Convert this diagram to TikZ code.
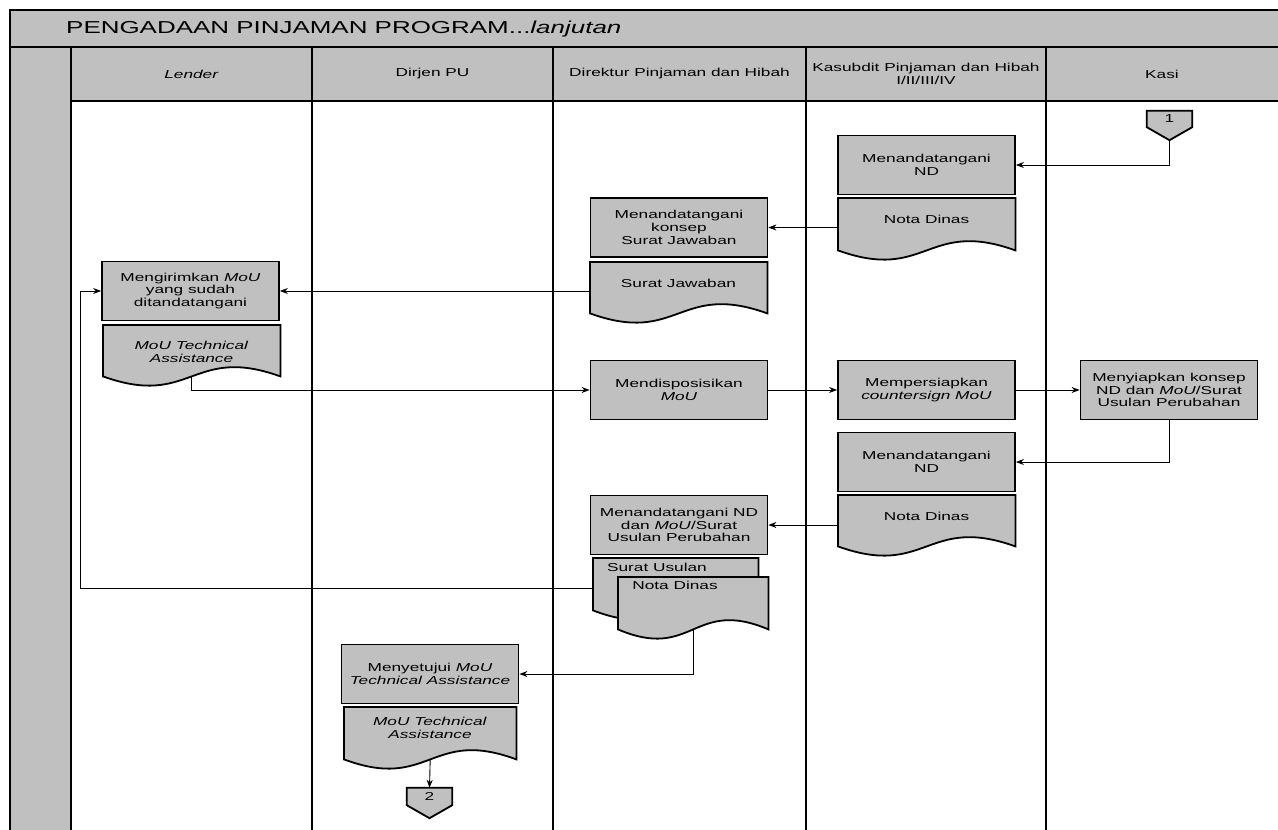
\documentclass[tikz,border=0pt]{standalone}
\usepackage{fontspec}
\setmainfont{Liberation Sans}[FakeStretch=1.5]
\usetikzlibrary{arrows.meta,calc}
\pgfdeclarelayer{frame}
\pgfdeclarelayer{docs}
\pgfsetlayers{frame,docs,main}
\definecolor{boxgray}{RGB}{192,192,192}
\newcommand\bodyfont{\fontsize{11.5}{12.8}\selectfont}
\newcommand\titlefont{\fontsize{17.3}{20}\selectfont}
\newcommand\mkdoc[1]{\begin{pgfonlayer}{docs}\path[docshape] (#1.north west) -- (#1.north east) -- (#1.south east) .. controls ($(#1.south)+(0,-32)$) and ($(#1.south)+(0,32)$) .. (#1.south west) -- cycle;\end{pgfonlayer}}
\newcommand\mkoffpage[1]{\begin{pgfonlayer}{docs}\path[docshape] (#1.north west) -- (#1.north east) -- (#1.south east) -- (#1tip) -- (#1.south west) -- cycle;\end{pgfonlayer}}
\tikzset{
  proc/.style={draw=black, line width=1.8pt, fill=boxgray, minimum width=177pt, minimum height=59pt, inner sep=0pt, align=center, font=\bodyfont},
  docnode/.style={anchor=north west, inner sep=0pt, minimum width=177pt, minimum height=51pt},
  doctext/.style={inner sep=0pt, align=center, font=\bodyfont},
  docshape/.style={draw=black, line width=1.8pt, fill=boxgray, line join=miter},
  offp/.style={inner sep=0pt, minimum width=45pt, minimum height=16pt, font=\bodyfont},
  hdr/.style={inner sep=0pt, align=center, font=\bodyfont},
  arr/.style={draw=black, line width=0.9pt, -{Stealth[length=8pt,width=6pt]}},
  lane/.style={draw=black, line width=2pt},
}
\begin{document}
\begin{tikzpicture}[x=1pt,y=-1pt]
\useasboundingbox (0,0) rectangle (1278,830);
\begin{pgfonlayer}{frame}
  \fill[white] (0,0) rectangle (1278,830);
  \fill[boxgray] (10,10) rectangle (1278,47);
  \fill[boxgray] (10,47) rectangle (71,830);
  \fill[boxgray] (71,47) rectangle (1278,101);
  \draw[lane] (1278,10) -- (10,10) -- (10,830);
  \draw[lane] (10,47) -- (1278,47);
  \draw[lane] (71,101) -- (1278,101);
  \foreach \x in {71,312,553,806,1046} \draw[lane] (\x,47) -- (\x,830);
\end{pgfonlayer}

% title and headers
\node[anchor=west, inner sep=0pt, font=\titlefont] (title) at (66,29) {PENGADAAN PINJAMAN PROGRAM...\textit{lanjutan}};
\node[hdr] (hLender) at (191.5,74) {\textit{Lender}};
\node[hdr] (hDirjen) at (432.5,74) {Dirjen PU};
\node[hdr] (hDirektur) at (679.5,74) {Direktur Pinjaman dan Hibah};
\node[hdr] (hKasubdit) at (926,74) {Kasubdit Pinjaman dan Hibah\\I/II/III/IV};
\node[hdr] (hKasi) at (1162,74) {Kasi};

% off-page connector 1
\node[offp] (c1) at (1169.5,119) {1};
\coordinate (c1tip) at ($(c1.south)+(0,13)$);
\mkoffpage{c1}

% process boxes
\node[proc] (nd1) at (926.5,165) {Menandatangani\\ND};
\node[proc] (konsep) at (679,227.5) {Menandatangani\\konsep\\Surat Jawaban};
\node[proc] (kirim) at (190.5,291) {Mengirimkan \textit{MoU}\\yang sudah\\ditandatangani};
\node[proc] (disp) at (679,390) {Mendisposisikan\\\textit{MoU}};
\node[proc] (cs) at (926.5,390) {Mempersiapkan\\\textit{countersign MoU}};
\node[proc] (siap) at (1169,390) {Menyiapkan konsep\\ND dan \textit{MoU}/Surat\\Usulan Perubahan};
\node[proc] (nd2) at (926.5,462) {Menandatangani\\ND};
\node[proc] (ttd) at (679,525) {Menandatangani ND\\dan \textit{MoU}/Surat\\Usulan Perubahan};
\node[proc] (setuju) at (430,674) {Menyetujui \textit{MoU}\\\textit{Technical Assistance}};

% documents
\node[docnode, minimum height=52pt] (nota1) at (838,198) {};
\mkdoc{nota1}
\node[doctext] (nota1t) at (926.5,219) {Nota Dinas};

\node[docnode] (sj) at (590,262) {};
\mkdoc{sj}
\node[doctext] (sjt) at (678.5,283) {Surat Jawaban};

\node[docnode] (mou1) at (103,325) {};
\mkdoc{mou1}
\node[doctext] (mou1t) at (191.5,352) {\textit{MoU Technical}\\\textit{Assistance}};

\node[docnode] (nota2) at (838,495) {};
\mkdoc{nota2}
\node[doctext] (nota2t) at (926.5,516) {Nota Dinas};

\node[docnode, minimum width=165pt, minimum height=52pt] (su) at (593,558) {};
\mkdoc{su}
\node[doctext] (sut) at (657,567) {Surat Usulan};

\node[docnode, minimum width=150pt, minimum height=52pt] (nd3) at (618,577) {};
\mkdoc{nd3}
\node[doctext] (nd3t) at (675,585) {Nota Dinas};

\node[docnode, minimum width=172pt, minimum height=52pt] (mou2) at (344,707) {};
\mkdoc{mou2}
\node[doctext] (mou2t) at (430,728) {\textit{MoU Technical}\\\textit{Assistance}};

% off-page connector 2
\node[offp, minimum height=17pt] (c2) at (429.5,796.5) {2};
\coordinate (c2tip) at ($(c2.south)+(0,13)$);
\mkoffpage{c2}

% connectors
\coordinate (loopc) at (80,588);
\draw[arr] (c1tip) |- (nd1.east);
\draw[arr] (konsep.east -| nota1.west) -- (konsep.east);
\draw[arr] (kirim.east -| sj.west) -- (kirim.east);
\draw[arr] (mou1.south) |- (disp.west);
\draw[arr] (disp.east) -- (cs.west);
\draw[arr] (cs.east) -- (siap.west);
\draw[arr] (siap.south) |- (nd2.east);
\draw[arr] (ttd.east -| nota2.west) -- (ttd.east);
\draw[arr] (su.west |- loopc) -- (loopc) |- (kirim.west);
\draw[arr] (nd3.south) |- (setuju.east);
\draw[arr] (mou2.south) -- (c2.north);
\end{tikzpicture}
\end{document}
